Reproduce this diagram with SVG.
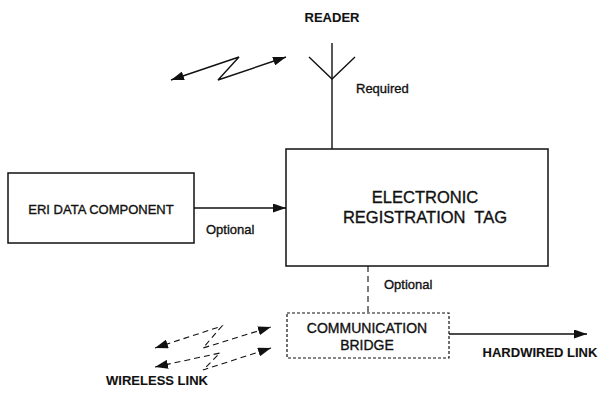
<svg xmlns="http://www.w3.org/2000/svg" width="598" height="396" viewBox="0 0 598 396">
  <defs>
    <style>
      text { font-family: "Liberation Sans", Arial, sans-serif; fill: #111; stroke: #111; stroke-width: 0.35; }
      .lbl { font-size: 13px; }
      .cap { font-size: 13px; font-weight: bold; stroke-width: 0.1; }
      .box { fill: #fff; stroke: #111; stroke-width: 1.5; }
      .dbox { fill: #fff; stroke: #111; stroke-width: 1.2; stroke-dasharray: 3 2; }
      .ln { fill: none; stroke: #111; stroke-width: 1.4; }
      .dl { fill: none; stroke: #111; stroke-width: 1.1; stroke-dasharray: 6 4; }
    </style>
    <marker id="ah" viewBox="0 0 13 9" refX="13" refY="4.5" markerWidth="13" markerHeight="9" markerUnits="userSpaceOnUse" orient="auto-start-reverse">
      <path d="M0,0 L13,4.5 L0,9 Z" fill="#111"/>
    </marker>
  </defs>

  <rect width="598" height="396" fill="#fff"/>

  <!-- reader antenna -->
  <g id="reader">
    <text class="cap" x="332" y="22" text-anchor="middle" font-size="14">READER</text>
    <polyline class="ln" points="309,57 332,79 355,57"/>
    <text class="lbl" x="356" y="93">Required</text>
  </g>

  <!-- tag -->
  <g id="tag">
    <rect class="box" x="286" y="149" width="262" height="117"/>
    <text x="425" y="203" text-anchor="middle" font-size="16.5">ELECTRONIC</text>
    <text x="425" y="223" text-anchor="middle" font-size="16.5" xml:space="preserve">REGISTRATION  TAG</text>
  </g>

  <!-- data component -->
  <g id="eri">
    <rect class="box" x="8" y="173" width="186" height="70"/>
    <text class="lbl" x="101" y="214" text-anchor="middle">ERI DATA COMPONENT</text>
  </g>

  <!-- bridge -->
  <g id="bridge">
    <rect class="dbox" x="287" y="313" width="162" height="45"/>
    <text x="367" y="333" text-anchor="middle" font-size="14">COMMUNICATION</text>
    <text x="367" y="350" text-anchor="middle" font-size="14">BRIDGE</text>
  </g>

  <!-- connectors -->
  <g id="connectors">
    <!-- antenna mast -->
    <line class="ln" x1="332" y1="43" x2="332" y2="149"/>
    <!-- reader RF link -->
    <polyline class="ln" points="171,80 239,57 218,80 286,57" marker-start="url(#ah)" marker-end="url(#ah)"/>
    <!-- data to tag -->
    <line class="ln" x1="194" y1="208" x2="286" y2="208" marker-end="url(#ah)"/>
    <text class="lbl" x="206" y="234">Optional</text>
    <!-- tag to bridge -->
    <line class="dl" x1="368" y1="266" x2="368" y2="313" stroke-dasharray="3 2"/>
    <text class="lbl" x="384" y="289">Optional</text>
    <!-- hardwired -->
    <line class="ln" x1="449" y1="334" x2="587" y2="334" marker-end="url(#ah)"/>
    <text class="cap" x="540" y="357" text-anchor="middle" font-size="12.6">HARDWIRED LINK</text>
    <!-- wireless links -->
    <polyline class="dl" points="155,348 222,326 203,348 271,327" marker-start="url(#ah)" marker-end="url(#ah)"/>
    <polyline class="dl" points="155,367 220,353 203,370 271,348" marker-start="url(#ah)" marker-end="url(#ah)"/>
    <text class="cap" x="157" y="385" text-anchor="middle" font-size="12.8">WIRELESS LINK</text>
  </g>
</svg>
